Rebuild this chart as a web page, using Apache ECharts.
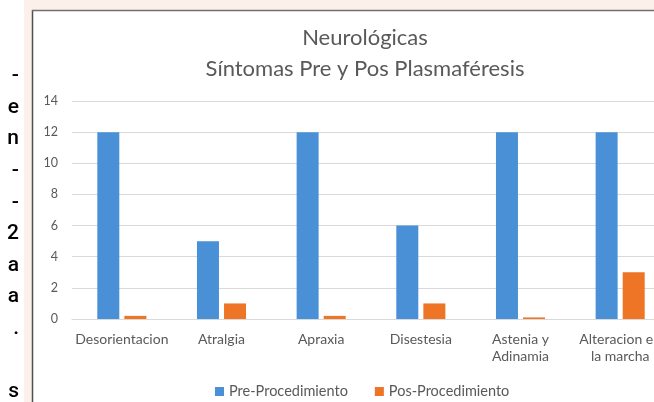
<!DOCTYPE html>
<html><head><meta charset="utf-8">
<script src="https://cdn.jsdelivr.net/npm/echarts@6/dist/echarts.min.js"></script>
<style>html,body{margin:0;padding:0;background:#fff;overflow:hidden;width:654px;height:402px}#c{width:700px;height:402px}</style>
</head><body><div id="c"></div>
<script>
const categories = ['Desorientacion', 'Atralgia', 'Apraxia', 'Disestesia', 'Astenia y\nAdinamia', 'Alteracion en\nla marcha'];
const preValues = [12, 5, 12, 6, 12, 12];
const posValues = [0.2, 1, 0.2, 1, 0.1, 3];
const yTicks = { min: 0, max: 14, interval: 2 };
const seriesNames = ['Pre-Procedimiento', 'Pos-Procedimiento'];
const sideText = ['-', 'e', 'n', '-', '-', '2', 'a', 'a', '.', '', 's'];

const chart = echarts.init(document.getElementById('c'));
const font = 'Lato, "Open Sans", sans-serif';
const graphics = [
  { type: 'rect', shape: { x: 24, y: 0, width: 680, height: 10 }, style: { fill: '#fbf1ea' }, z: -10 },
  { type: 'rect', shape: { x: 24, y: 0, width: 8, height: 402 }, style: { fill: '#fbf1ea' }, z: -10 },
  { type: 'line', shape: { x1: 32.5, y1: 10, x2: 32.5, y2: 402 }, style: { stroke: '#505050', lineWidth: 1.5 } },
  { type: 'line', shape: { x1: 32, y1: 10.5, x2: 700, y2: 10.5 }, style: { stroke: '#707070', lineWidth: 1.5 } }
];
sideText.forEach((t, i) => {
  graphics.push({ type: 'text', x: 19, y: 76 + i * 31.6,
    style: { text: t, fill: '#000', font: '500 21px Roboto, sans-serif', textAlign: 'right', textVerticalAlign: 'middle' } });
});

chart.setOption({
  animation: false,
  backgroundColor: '#fff',
  title: {
    text: 'Neurológicas\nSíntomas Pre y Pos Plasmaféresis',
    left: 360, top: 17, textAlign: 'center',
    textStyle: { fontFamily: font, fontSize: 22, lineHeight: 31, fontWeight: 'normal', color: '#595959' }
  },
  legend: {
    left: 210, top: 379, itemWidth: 9, itemHeight: 9, itemGap: 27, icon: 'rect',
    textStyle: { fontFamily: font, fontSize: 14.5, color: '#595959' },
    data: seriesNames
  },
  grid: { left: 72, top: 101, width: 598, height: 218 },
  xAxis: {
    type: 'category', data: categories,
    axisLine: { lineStyle: { color: '#d9d9d9' } },
    axisTick: { show: false },
    axisLabel: { interval: 0, margin: 12, fontFamily: font, fontSize: 14, lineHeight: 17, color: '#595959' }
  },
  yAxis: {
    type: 'value', min: yTicks.min, max: yTicks.max, interval: yTicks.interval,
    axisLine: { show: false }, axisTick: { show: false },
    splitLine: { lineStyle: { color: '#d9d9d9' } },
    axisLabel: { margin: 14, fontFamily: font, fontSize: 12.5, color: '#595959' }
  },
  series: [
    { name: seriesNames[0], type: 'bar', data: preValues, barWidth: 22, barGap: '23%', itemStyle: { color: '#4a90d7' } },
    { name: seriesNames[1], type: 'bar', data: posValues, barWidth: 22, itemStyle: { color: '#ee7426' } }
  ],
  graphic: graphics
});
</script></body></html>
